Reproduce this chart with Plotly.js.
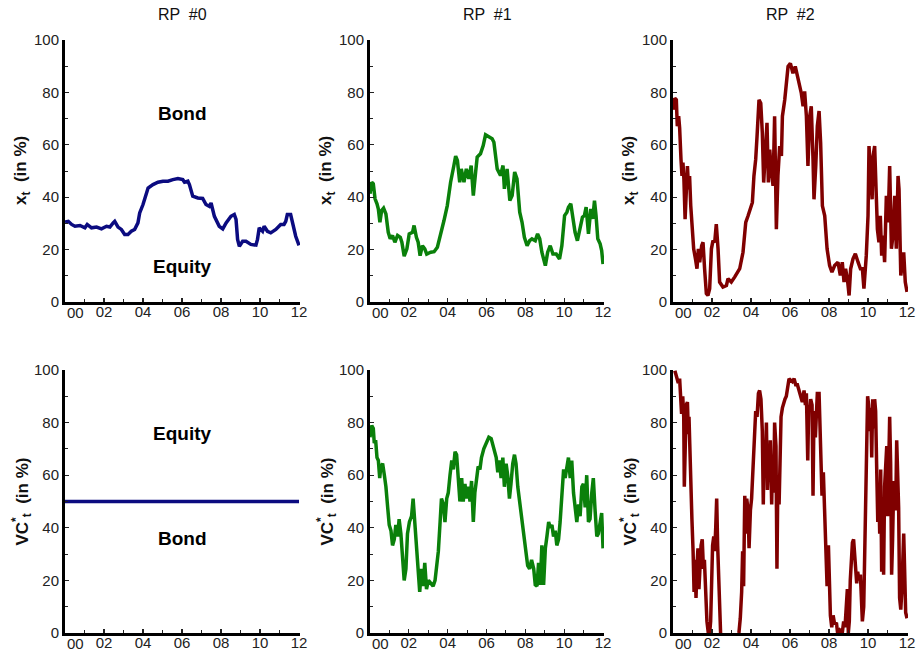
<!DOCTYPE html>
<html>
<head>
<meta charset="utf-8">
<script src="https://cdn.plot.ly/plotly-3.0.1.min.js"></script>
<style>html,body{margin:0;padding:0;background:#fff}#chart{width:917px;height:652px}</style>
</head>
<body>
<div id="chart"></div>
<script>
// ---- data (x = years since 2000) ----
const panelTitles = ["RP  #0", "RP  #1", "RP  #2"];
const xTickVals = [0, 2, 4, 6, 8, 10, 12];
const xTickText = ["00", "02", "04", "06", "08", "10", "12"];

const rp0Years = [0.00,0.17,0.34,0.51,0.77,1.02,1.14,1.36,1.62,1.87,2.13,2.30,2.47,2.55,2.72,2.89,3.06,3.23,3.40,3.57,3.74,3.83,4.00,4.17,4.26,4.51,4.77,5.02,5.28,5.53,5.79,6.04,6.13,6.30,6.38,6.55,6.81,7.06,7.23,7.40,7.49,7.66,7.91,8.09,8.26,8.51,8.68,8.77,8.85,8.94,9.11,9.28,9.53,9.79,9.87,9.96,10.13,10.21,10.38,10.55,10.81,11.06,11.23,11.32,11.40,11.57,11.66,11.83,12.00];
const rp0Xt = [30.5,30.8,29.6,28.9,29.2,28.3,29.6,28.3,28.6,27.9,28.9,28.6,30.2,30.8,28.6,27.7,25.8,25.8,27.0,27.7,30.2,34.0,37.2,41.6,43.5,44.8,45.7,46.1,46.1,46.7,47.1,46.7,45.7,46.1,44.8,40.4,39.7,39.5,37.2,36.5,37.8,32.7,28.9,27.9,30.2,32.7,33.4,31.5,23.9,21.3,23.2,23.2,22.0,21.7,23.9,28.3,27.0,28.9,27.0,26.4,27.7,29.6,29.6,30.8,33.4,33.4,30.2,25.1,21.6];
const rp0VcYears = [0, 12];
const rp0Vc = [50, 50];

const rp1Years = [0.00,0.09,0.17,0.26,0.36,0.43,0.51,0.60,0.70,0.82,0.94,1.04,1.16,1.28,1.42,1.56,1.64,1.76,1.90,2.02,2.19,2.27,2.39,2.48,2.58,2.70,2.82,2.92,3.13,3.30,3.47,3.64,3.81,3.98,4.15,4.32,4.41,4.50,4.62,4.70,4.84,4.96,5.09,5.21,5.32,5.44,5.52,5.69,5.83,5.95,6.12,6.29,6.38,6.55,6.72,6.85,6.92,7.06,7.20,7.32,7.45,7.57,7.71,7.83,7.95,8.09,8.22,8.34,8.51,8.63,8.74,8.85,9.03,9.15,9.28,9.42,9.59,9.76,9.88,10.02,10.14,10.22,10.34,10.44,10.56,10.68,10.82,10.94,11.04,11.13,11.25,11.37,11.47,11.56,11.64,11.73,11.85,11.93,12.00];
const rp1Xt = [41.3,45.7,45.1,39.4,37.5,35.5,30.4,34.9,35.8,33.6,26.6,24.1,25.4,22.8,25.4,24.7,22.8,17.5,20.3,26.0,26.6,29.2,24.7,22.8,17.7,21.5,20.3,18.3,19.0,19.2,20.9,25.4,31.1,36.8,45.7,52.1,55.7,54.0,45.7,50.8,45.7,50.8,47.0,52.1,40.6,49.6,55.3,56.6,59.7,63.8,62.9,62.3,61.0,50.8,48.3,52.1,43.2,50.8,38.7,40.6,49.6,47.0,34.3,30.4,24.7,21.5,23.4,24.1,23.4,26.0,24.1,19.0,13.9,19.0,21.5,18.3,18.3,16.4,21.5,33.0,34.3,36.2,37.5,33.0,26.6,23.4,27.9,32.4,33.0,36.2,26.0,35.5,31.7,38.7,33.0,24.1,22.2,19.6,14.5];

const rp1VcYears = [0.00,0.09,0.17,0.22,0.29,0.36,0.43,0.50,0.56,0.65,0.74,0.82,0.91,0.99,1.08,1.16,1.25,1.33,1.42,1.50,1.59,1.68,1.76,1.85,1.93,2.03,2.14,2.22,2.31,2.39,2.48,2.56,2.65,2.74,2.82,2.91,3.01,3.13,3.25,3.35,3.44,3.52,3.61,3.68,3.78,3.86,3.95,4.03,4.12,4.21,4.29,4.38,4.46,4.55,4.63,4.72,4.80,4.89,4.97,5.06,5.15,5.23,5.32,5.40,5.49,5.57,5.66,5.74,5.86,6.00,6.12,6.24,6.38,6.50,6.58,6.67,6.75,6.84,6.92,7.01,7.09,7.18,7.26,7.35,7.44,7.52,7.61,7.69,7.78,7.86,7.95,8.03,8.12,8.22,8.32,8.43,8.51,8.60,8.68,8.77,8.85,8.94,9.03,9.11,9.20,9.28,9.37,9.45,9.54,9.62,9.71,9.79,9.88,9.97,10.05,10.14,10.22,10.31,10.39,10.48,10.56,10.65,10.74,10.82,10.91,10.99,11.08,11.16,11.25,11.33,11.42,11.50,11.59,11.68,11.76,11.85,11.93,12.00];
const rp1Vc = [74.4,78.9,77.8,72.2,73.3,66.7,65.6,58.9,63.3,64.4,60.0,55.6,47.8,41.1,38.9,33.3,35.6,41.1,36.7,43.3,37.8,26.7,20.0,24.4,37.8,42.2,44.4,51.1,42.2,35.6,25.6,15.6,24.4,17.8,26.7,16.7,20.0,18.9,17.8,20.0,25.6,31.1,42.2,51.1,48.9,42.2,51.1,53.3,60.0,65.6,62.2,68.9,67.8,60.0,50.0,58.9,50.0,56.7,51.1,55.6,50.0,57.8,42.2,53.3,57.8,63.3,62.2,66.7,70.0,72.2,74.4,73.9,70.0,66.7,61.1,65.6,58.9,66.7,55.6,64.4,60.0,51.1,56.7,64.4,67.8,64.4,55.6,51.1,45.6,40.0,35.6,31.1,25.6,24.4,27.8,24.4,18.3,17.8,26.7,18.3,33.3,18.3,32.2,36.7,42.2,40.0,41.1,36.7,38.9,33.3,35.6,42.2,51.1,62.2,58.9,64.4,66.7,58.9,65.6,53.3,48.9,42.2,48.9,44.4,55.6,56.7,47.8,60.0,42.2,43.3,53.3,58.9,46.7,36.7,37.8,42.2,45.6,32.2];

const rp2Years = [0.00,0.09,0.17,0.22,0.29,0.34,0.41,0.46,0.51,0.56,0.62,0.68,0.74,0.80,0.85,0.91,0.99,1.06,1.15,1.23,1.30,1.37,1.47,1.54,1.62,1.71,1.79,1.88,1.97,2.05,2.14,2.22,2.31,2.39,2.56,2.74,2.82,2.99,3.16,3.42,3.59,3.73,3.85,3.97,4.07,4.15,4.24,4.31,4.41,4.50,4.58,4.65,4.74,4.82,4.89,4.96,5.04,5.13,5.21,5.30,5.38,5.47,5.56,5.61,5.73,5.81,5.90,6.02,6.15,6.27,6.38,6.50,6.58,6.67,6.75,6.84,6.92,7.01,7.09,7.18,7.23,7.32,7.40,7.49,7.57,7.66,7.78,7.90,8.03,8.15,8.29,8.46,8.58,8.68,8.77,8.85,8.94,9.03,9.11,9.23,9.35,9.49,9.61,9.71,9.79,9.91,10.00,10.05,10.12,10.21,10.26,10.34,10.43,10.48,10.56,10.63,10.70,10.77,10.85,10.94,11.03,11.11,11.20,11.28,11.37,11.45,11.54,11.59,11.68,11.76,11.83,11.91,12.00];
const rp2Xt = [73.4,77.8,77.2,67.1,70.9,66.5,54.4,48.1,53.2,46.8,31.6,45.6,51.9,43.0,48.1,36.7,25.3,20.3,16.5,12.7,20.3,15.2,21.5,22.8,12.7,3.2,2.5,5.1,20.3,23.4,22.8,29.7,20.3,7.6,5.7,6.3,8.9,7.6,9.5,12.7,19.0,30.4,32.9,35.4,38.0,48.1,54.4,63.3,77.2,75.9,64.6,45.6,58.2,68.4,45.6,58.2,50.6,44.3,70.9,27.8,48.1,59.5,55.7,70.9,77.2,83.5,89.9,91.1,87.3,89.9,86.1,82.3,79.7,74.7,80.4,70.9,51.9,70.9,74.7,54.4,39.2,51.9,67.1,72.9,60.8,36.7,32.9,20.3,13.9,11.4,13.9,15.2,10.1,15.2,7.6,12.7,8.9,2.5,12.7,16.5,18.4,15.2,12.7,12.7,5.1,17.7,32.9,59.5,48.1,39.2,55.7,59.5,39.2,27.8,22.8,32.9,17.7,25.3,15.2,40.5,30.4,51.9,20.3,25.3,40.5,20.3,48.1,43.0,10.1,15.2,19.0,7.6,3.8];

const rp2VcYears = [0.03,0.12,0.21,0.27,0.34,0.39,0.44,0.50,0.55,0.58,0.63,0.68,0.74,0.79,0.82,0.87,0.92,0.97,1.03,1.08,1.13,1.18,1.23,1.28,1.33,1.38,1.44,1.50,1.56,1.61,1.68,1.74,1.81,1.88,1.93,1.98,2.03,2.09,2.14,2.19,2.24,2.29,2.36,2.44,2.90,3.38,3.45,3.52,3.57,3.62,3.68,3.73,3.78,3.85,3.90,3.97,4.03,4.10,4.17,4.24,4.31,4.38,4.44,4.51,4.58,4.63,4.68,4.74,4.79,4.84,4.89,4.94,4.99,5.06,5.11,5.16,5.21,5.28,5.33,5.38,5.44,5.49,5.54,5.61,5.68,5.74,5.81,5.88,5.95,6.03,6.12,6.21,6.29,6.38,6.46,6.55,6.63,6.72,6.79,6.84,6.91,6.96,7.01,7.06,7.13,7.18,7.23,7.30,7.35,7.40,7.49,7.57,7.64,7.71,7.78,7.85,7.90,7.97,8.02,8.07,8.14,8.21,8.29,8.38,8.44,8.55,8.68,8.75,8.82,8.89,8.94,8.99,9.04,9.09,9.15,9.20,9.26,9.32,9.37,9.42,9.47,9.54,9.61,9.66,9.71,9.78,9.83,9.88,9.93,9.98,10.03,10.09,10.14,10.19,10.24,10.29,10.34,10.39,10.44,10.50,10.55,10.60,10.65,10.70,10.75,10.80,10.85,10.91,10.96,11.01,11.06,11.11,11.16,11.21,11.26,11.32,11.37,11.42,11.47,11.52,11.57,11.62,11.68,11.73,11.78,11.83,11.88,11.93,12.00];
const rp2Vc = [98.9,99.1,96.7,95.0,96.7,86.7,83.3,90.0,82.2,55.6,71.1,86.7,87.8,75.6,82.2,65.6,57.8,43.3,31.1,15.6,27.8,13.3,25.6,32.2,16.7,27.8,33.3,35.6,24.4,27.8,13.3,4.4,0,0,4.4,20.0,33.3,36.7,31.1,40.0,51.1,33.3,15.6,0,null,0,5.6,15.6,31.1,17.8,52.2,37.8,51.1,46.7,32.2,46.7,51.1,62.2,71.1,84.4,82.2,91.1,92.2,88.9,76.7,48.9,73.3,65.6,80.0,54.4,65.6,57.8,73.3,48.9,67.8,53.3,80.0,71.1,24.4,60.0,48.9,62.2,82.2,85.6,87.8,88.9,90.0,94.4,96.7,96.1,95.6,96.7,94.4,94.4,92.2,90.0,87.8,92.2,86.7,91.1,65.6,86.7,84.4,88.9,86.7,52.2,84.4,74.4,88.9,91.1,91.1,73.3,52.2,61.1,42.2,28.9,17.8,33.3,15.6,6.7,2.2,6.7,3.3,3.9,0,1.1,0,4.4,2.2,15.6,16.7,0,4.4,20.0,28.9,34.4,35.6,28.9,24.4,18.9,23.3,20.0,22.2,11.1,4.4,10.0,32.2,44.4,62.2,90.0,86.7,76.7,85.6,66.7,88.9,77.8,88.9,84.4,64.4,42.2,54.4,37.8,62.2,23.3,42.2,22.2,55.6,62.2,71.1,44.4,57.8,82.2,64.4,22.2,35.6,57.8,48.9,46.7,73.3,62.2,47.8,13.3,8.9,15.6,34.4,37.8,23.3,7.8,5.6];

const lineColors = ["#0b0b80", "#0a800a", "#800000"];

// ---- layout geometry ----
const W = 917, H = 652;
const colPx = [[65, 300], [370, 604], [673, 908]];
const rowPx = [[40, 302], [370, 633]];
const px2x = p => p / W;
const px2y = p => 1 - p / H;

const series = [
  [[rp0Years, rp0Xt], [rp1Years, rp1Xt], [rp2Years, rp2Xt]],
  [[rp0VcYears, rp0Vc], [rp1VcYears, rp1Vc], [rp2VcYears, rp2Vc]]
];

const data = [];
const layout = {
  width: W, height: H,
  margin: {l: 0, r: 0, t: 0, b: 0},
  paper_bgcolor: "#fff", plot_bgcolor: "#fff",
  showlegend: false,
  font: {family: "Liberation Sans, Arial, sans-serif", size: 14, color: "#222"},
  annotations: []
};

let idx = 0;
for (let r = 0; r < 2; r++) {
  for (let c = 0; c < 3; c++) {
    idx++;
    const xa = idx === 1 ? "xaxis" : "xaxis" + idx;
    const ya = idx === 1 ? "yaxis" : "yaxis" + idx;
    const xr = idx === 1 ? "x" : "x" + idx;
    const yr = idx === 1 ? "y" : "y" + idx;
    data.push({
      type: "scatter", mode: "lines",
      x: series[r][c][0], y: series[r][c][1],
      xaxis: xr, yaxis: yr,
      line: {color: lineColors[c], width: 3.5},
      connectgaps: false, hoverinfo: "skip"
    });
    layout[xa] = {
      domain: [px2x(colPx[c][0]), px2x(colPx[c][1])],
      anchor: yr,
      range: [0, 12.05],
      tickmode: "array", tickvals: xTickVals,
      ticktext: xTickText.map((t, i) => i === 0 ? "" : t),
      ticks: "inside", ticklen: 4, tickwidth: 1.2, tickcolor: "#222",
      ticklabelstandoff: -6,
      minor: {ticks: "inside", ticklen: 3, tick0: 1, dtick: 2, tickcolor: "#222", tickwidth: 1},
      showline: true, linewidth: 3, linecolor: "#000",
      showgrid: false, zeroline: false,
      tickfont: {size: 15, color: "#222"},
      fixedrange: true
    };
    layout[ya] = {
      domain: [px2y(rowPx[r][1]), px2y(rowPx[r][0])],
      anchor: xr,
      range: [0, 100],
      tickmode: "linear", tick0: 0, dtick: 20,
      ticks: "inside", ticklen: 4, tickwidth: 1.2, tickcolor: "#222",
      minor: {ticks: "inside", ticklen: 3, dtick: 10, tickcolor: "#222", tickwidth: 1},
      showline: true, linewidth: 3, linecolor: "#000",
      showgrid: false, zeroline: false,
      tickfont: {size: 15, color: "#222"},
      fixedrange: true
    };
    // shifted "00" label
    layout.annotations.push({
      xref: xr, yref: yr, x: 0, y: 0, text: "00",
      showarrow: false, xanchor: "center", yanchor: "middle",
      xshift: 10, yshift: -10, font: {size: 15, color: "#222"}
    });
    // y-axis title
    const yTitle = r === 0 ? "<b>x<sub>t</sub>  (in %)</b>" : "<b>VC<sup>*</sup><sub>t</sub>  (in %)</b>";
    layout.annotations.push({
      xref: "paper", yref: "paper",
      x: px2x(colPx[c][0] - 43), y: px2y((rowPx[r][0] + rowPx[r][1]) / 2),
      text: yTitle, textangle: -90, showarrow: false,
      xanchor: "center", yanchor: "middle",
      font: {size: 17, color: "#111"}
    });
  }
}

// panel titles
for (let c = 0; c < 3; c++) {
  layout.annotations.push({
    xref: "paper", yref: "paper",
    x: px2x((colPx[c][0] + colPx[c][1]) / 2), y: px2y(15),
    text: panelTitles[c], showarrow: false,
    xanchor: "center", yanchor: "middle",
    font: {size: 16, color: "#111"}
  });
}

// region labels in RP #0 panels
const regionLabels = [
  {ax: 1, text: "Bond", x: 6, y: 72},
  {ax: 1, text: "Equity", x: 6, y: 13.5},
  {ax: 4, text: "Equity", x: 6, y: 76},
  {ax: 4, text: "Bond", x: 6, y: 36}
];
regionLabels.forEach(l => {
  layout.annotations.push({
    xref: l.ax === 1 ? "x" : "x" + l.ax, yref: l.ax === 1 ? "y" : "y" + l.ax,
    x: l.x, y: l.y, text: "<b>" + l.text + "</b>", showarrow: false,
    xanchor: "center", yanchor: "middle",
    font: {size: 19, color: "#000"}
  });
});

Plotly.newPlot("chart", data, layout, {displayModeBar: false, staticPlot: true});
</script>
</body>
</html>
